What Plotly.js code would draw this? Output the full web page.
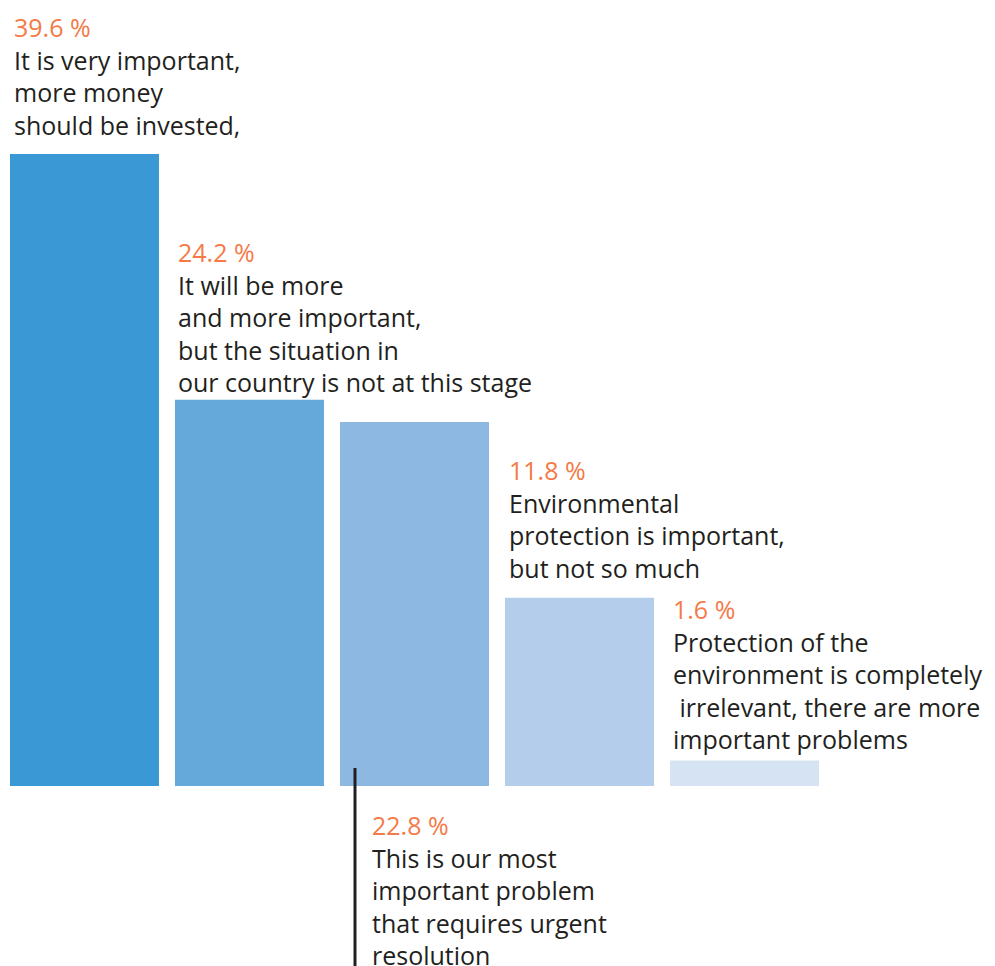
<!DOCTYPE html>
<html>
<head>
<meta charset="utf-8">
<script src="https://cdn.plot.ly/plotly-3.0.1.min.js"></script>
<style>html,body{margin:0;padding:0;background:#fff;}#chart{width:995px;height:966px;}</style>
</head>
<body>
<div id="chart"></div>
<script>
// ---- data ----
const categories = ["very_important", "more_important", "most_important", "not_so_much", "irrelevant"];
const values = [39.6, 24.2, 22.8, 11.8, 1.6];
const labels = [
  "It is very important,<br>more money<br>should be invested,",
  "It will be more<br>and more important,<br>but the situation in<br>our country is not at this stage",
  "This is our most<br>important problem<br>that requires urgent<br>resolution",
  "Environmental<br>protection is important,<br>but not so much",
  "Protection of the<br>environment is completely<br>&nbsp;irrelevant, there are more<br>important problems"
];

// ---- styles ----
const barColors = ["#3a98d4", "#65a8da", "#8cb8e2", "#b3cdea", "#d6e3f3"];
const pctColor = "#f47a48";
const textColor = "#231f20";
const fontFamily = "'Open Sans', 'Noto Sans', sans-serif";
const fontSize = 25;
const labelBelow = [false, false, true, false, false];
const labelYShift = [10, -1, -20, 11, 2];
const labelXShift = [2, 1, 30, 2, 1];

const trace = {
  type: "bar",
  x: categories,
  y: values,
  marker: { color: barColors, line: { width: 0 } },
  hoverinfo: "none"
};

const annotations = categories.map((c, i) => ({
  xref: "x", yref: "y",
  x: i - 0.4515,
  y: labelBelow[i] ? 0 : values[i],
  xanchor: "left",
  yanchor: labelBelow[i] ? "top" : "bottom",
  xshift: labelXShift[i],
  yshift: labelYShift[i],
  align: "left",
  showarrow: false,
  font: { family: fontFamily, size: fontSize, color: textColor },
  text: '<span style="color:' + pctColor + '">' + values[i].toFixed(1) + ' %</span><br>' + labels[i]
}));

const layout = {
  width: 995, height: 966,
  margin: { l: 0, r: 0, t: 0, b: 0, pad: 0 },
  paper_bgcolor: "#ffffff", plot_bgcolor: "#ffffff",
  bargap: 0.097,
  showlegend: false,
  xaxis: { type: "category", range: [-0.512, 5.518], visible: false, fixedrange: true },
  yaxis: { range: [-11.28, 49.25], visible: false, fixedrange: true },
  annotations: annotations,
  shapes: [{
    type: "line", xref: "x", yref: "y",
    x0: 2 - 0.3606, x1: 2 - 0.3606,
    y0: 1.13, y1: -11.28,
    line: { color: textColor, width: 3 }
  }]
};

Plotly.newPlot("chart", [trace], layout, { displayModeBar: false, staticPlot: true });
</script>
</body>
</html>
